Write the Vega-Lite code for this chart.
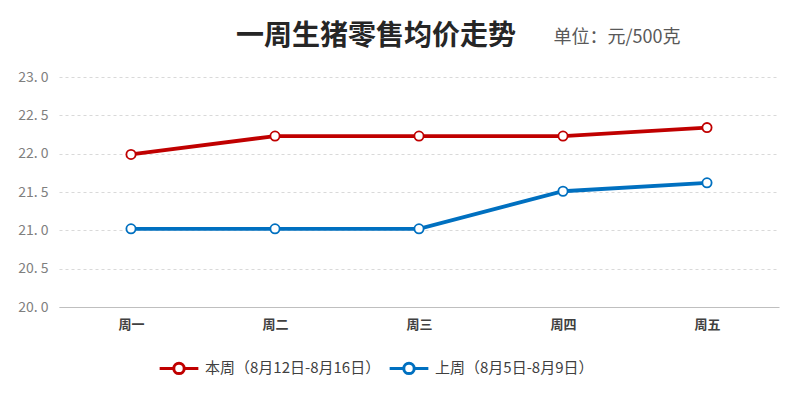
{
  "$schema": "https://vega.github.io/schema/vega-lite/v6.json",
  "width": 720,
  "height": 230,
  "autosize": "none",
  "padding": {"left": 59, "top": 77, "right": 21, "bottom": 89},
  "background": "white",
  "title": {
    "text": "一周生猪零售均价走势",
    "font": "Noto Sans CJK SC",
    "fontSize": 28,
    "fontWeight": "bold",
    "color": "#262626",
    "anchor": "middle",
    "frame": "group",
    "dx": -43,
    "offset": -23
  },
  "data": {
    "values": [
      {"day": "周一", "week": "本周（8月12日-8月16日）", "price": 21.99},
      {"day": "周二", "week": "本周（8月12日-8月16日）", "price": 22.23},
      {"day": "周三", "week": "本周（8月12日-8月16日）", "price": 22.23},
      {"day": "周四", "week": "本周（8月12日-8月16日）", "price": 22.23},
      {"day": "周五", "week": "本周（8月12日-8月16日）", "price": 22.34},
      {"day": "周一", "week": "上周（8月5日-8月9日）", "price": 21.02},
      {"day": "周二", "week": "上周（8月5日-8月9日）", "price": 21.02},
      {"day": "周三", "week": "上周（8月5日-8月9日）", "price": 21.02},
      {"day": "周四", "week": "上周（8月5日-8月9日）", "price": 21.51},
      {"day": "周五", "week": "上周（8月5日-8月9日）", "price": 21.62}
    ]
  },
  "encoding": {
    "x": {
      "field": "day",
      "type": "ordinal",
      "sort": ["周一", "周二", "周三", "周四", "周五"],
      "scale": {"type": "point", "padding": 0.5},
      "axis": {
        "title": null,
        "labelAngle": 0,
        "labelFont": "Noto Sans CJK SC",
        "labelFontSize": 13,
        "labelFontWeight": "bold",
        "labelColor": "#404040",
        "labelPadding": 11,
        "ticks": false,
        "domainColor": "#bfbfbf",
        "domainWidth": 1,
        "grid": false
      }
    },
    "y": {
      "field": "price",
      "type": "quantitative",
      "scale": {"domain": [20, 23], "zero": false, "nice": false},
      "axis": {
        "values": [20, 20.5, 21, 21.5, 22, 22.5, 23],
        "format": ".1f",
        "labelExpr": "replace(datum.label, '.', '. ')",
        "labelFont": "Noto Sans CJK SC",
        "labelFontSize": 14,
        "labelColor": "#7f7f7f",
        "labelPadding": 11,
        "ticks": false,
        "domain": false,
        "grid": true,
        "gridColor": "#d9d9d9",
        "gridDash": [3, 3],
        "gridWidth": 1,
        "title": "单位：元/500克",
        "titleAngle": 0,
        "titleX": 494,
        "titleY": -40,
        "titleAlign": "left",
        "titleBaseline": "middle",
        "titleFont": "Noto Sans CJK SC",
        "titleFontSize": 18,
        "titleFontWeight": "normal",
        "titleColor": "#595959"
      }
    },
    "color": {
      "field": "week",
      "type": "nominal",
      "scale": {
        "domain": ["本周（8月12日-8月16日）", "上周（8月5日-8月9日）"],
        "range": ["#C00000", "#0070C0"]
      },
      "legend": {
        "title": null,
        "orient": "none",
        "direction": "horizontal",
        "legendX": 99,
        "legendY": 270,
        "symbolType": "M-1,0L-0.27,0M0.27,0L1,0M-0.27,0A0.27,0.27 0 1,1 0.27,0A0.27,0.27 0 1,1 -0.27,0",
        "symbolSize": 1500,
        "symbolStrokeWidth": 3,
        "symbolFillColor": "white",
        "labelFont": "Noto Sans CJK SC",
        "labelFontSize": 15,
        "labelLimit": 400,
        "labelColor": "#404040",
        "labelOffset": 5,
        "columnPadding": 2
      }
    }
  },
  "layer": [
    {
      "mark": {"type": "line", "strokeWidth": 3.8}
    },
    {
      "mark": {"type": "point", "shape": "circle", "filled": false, "fill": "white", "size": 85, "strokeWidth": 1.8, "opacity": 1}
    }
  ],
  "config": {
    "view": {"stroke": null}
  }
}
